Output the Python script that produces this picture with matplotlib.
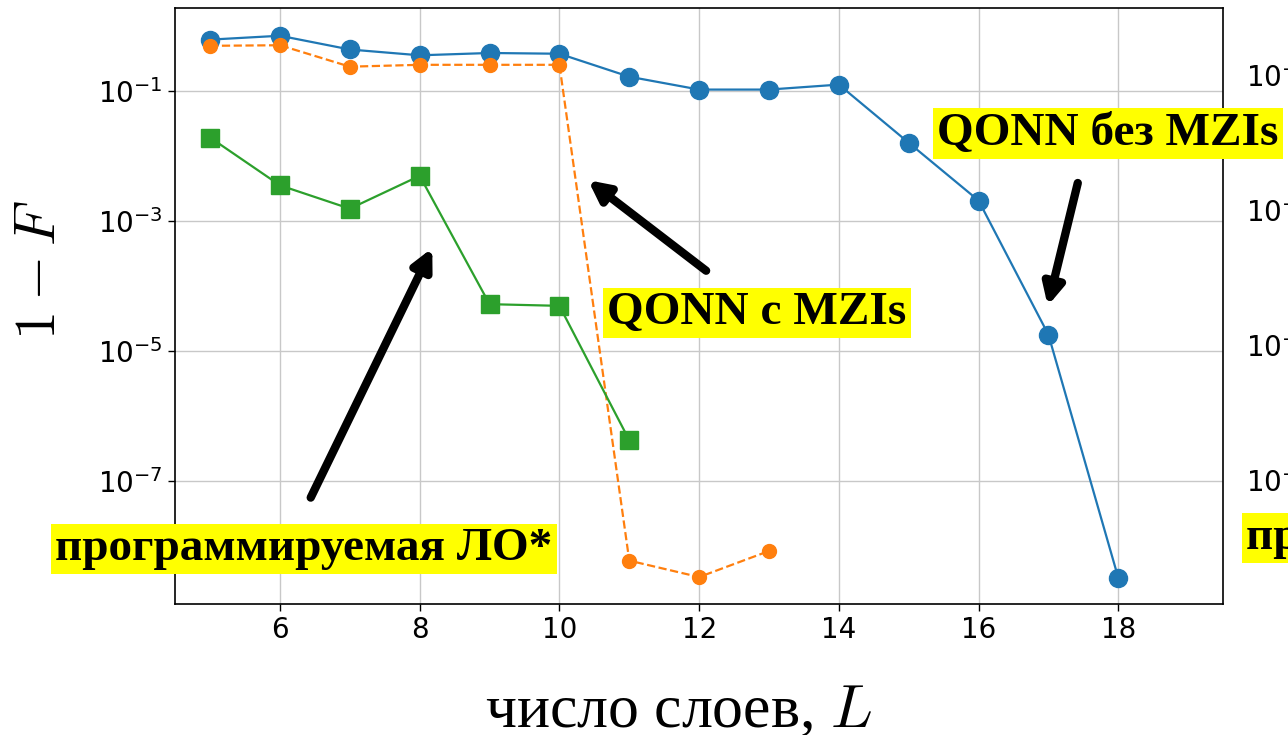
import matplotlib
matplotlib.use("Agg")
import matplotlib.pyplot as plt
import numpy as np

plt.rcParams['mathtext.fontset'] = 'cm'
plt.rcParams['font.family'] = ['DejaVu Sans']

L_blue = [5, 6, 7, 8, 9, 10, 11, 12, 13, 14, 15, 16, 17, 18]
y_blue = [0.61, 0.70, 0.43, 0.35, 0.38, 0.37, 0.164, 0.104, 0.104, 0.124,
          0.0158, 0.00204, 1.76e-5, 3.2e-9]

L_orange = [5, 6, 7, 8, 9, 10, 11, 12, 13]
y_orange = [0.49, 0.50, 0.234, 0.25, 0.25, 0.25, 5.9e-9, 3.3e-9, 8.3e-9]

L_green = [5, 6, 7, 8, 9, 10, 11]
y_green = [0.019, 0.0035, 0.00153, 0.0049, 5.2e-5, 4.9e-5, 4.2e-7]

xticks = [6, 8, 10, 12, 14, 16, 18]
yticks = [1e-1, 1e-3, 1e-5, 1e-7]

W, H = 1288, 735
fig = plt.figure(figsize=(W / 100, H / 100), dpi=100)
ax = fig.add_axes([174.7 / W, 1 - 604 / H, (1223.3 - 174.7) / W, (604 - 8) / H])

ax.plot(L_blue, y_blue, '-o', color='#1f77b4', lw=1.6, ms=13, zorder=3)
ax.plot(L_orange, y_orange, '--o', color='#ff7f0e', lw=1.6, ms=10, zorder=3)
ax.plot(L_green, y_green, '-s', color='#2ca02c', lw=1.6, ms=13, zorder=3)

ax.set_yscale('log')
ax.set_xlim(4.493, 19.503)
ax.set_ylim(1.27e-9, 1.87)
ax.set_xticks(xticks)
ax.set_yticks(yticks)
ax.yaxis.set_minor_locator(matplotlib.ticker.NullLocator())
ax.tick_params(labelsize=20, length=5, width=1)
ax.grid(True, color='#c8c8c8', lw=1)
for s in ax.spines.values():
    s.set_linewidth(1.2)

serif = ['Liberation Serif', 'DejaVu Serif']
box = dict(facecolor='yellow', edgecolor='none', pad=3)
txt_kw = dict(fontsize=34, fontweight='bold', family=serif, ha='center',
              va='center', bbox=box, zorder=5, annotation_clip=False)

arrow = dict(arrowstyle='-|>', lw=6, color='black', mutation_scale=30,
             shrinkA=0, shrinkB=0)
ax.annotate('', xy=(8.18, 3.8e-4), xytext=(6.44, 5.5e-8), arrowprops=arrow, zorder=6)
ax.annotate('', xy=(10.41, 4.2e-3), xytext=(12.10, 1.7e-4), arrowprops=arrow, zorder=6)
ax.annotate('', xy=(16.99, 4.9e-5), xytext=(17.42, 3.8e-3), arrowprops=arrow, zorder=6)

ax.annotate('программируемая ЛО*', xy=(6.34, 8.9e-9), **txt_kw)
ax.annotate('QONN с MZIs', xy=(12.83, 3.8e-5), **txt_kw)
ax.annotate('QONN без MZIs', xy=(17.85, 0.0218), **txt_kw)

fig.text(38.5 / W, 1 - 270 / H, '$1-F$', rotation=90, ha='center', va='center',
         fontsize=42)
fig.text(678 / W, 1 - 727 / H, 'число слоев, $L$', ha='center', va='baseline',
         fontsize=44.5, family=serif)

# neighbouring panel, cut by the right edge of the figure
ax2 = fig.add_axes([1320 / W, 1 - 615 / H, 0.5, 607.5 / H])
ax2.set_yscale('log')
ax2.set_ylim(1e-9, 1)
ax2.set_xlim(4.49, 19.5)
ax2.set_yticks(yticks)
ax2.yaxis.set_minor_locator(matplotlib.ticker.NullLocator())
ax2.tick_params(labelsize=20)
fig.text(1246 / W, 1 - 538 / H, 'программируемая ЛО*', ha='left', va='center',
         fontsize=34, fontweight='bold', family=serif, bbox=box)

fig.savefig('out.png', dpi=100)
